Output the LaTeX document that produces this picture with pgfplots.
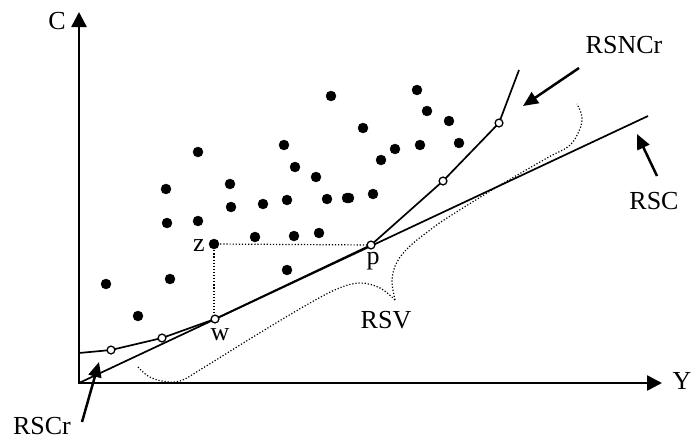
\documentclass[border=0pt]{standalone}
\usepackage{pgfplots}
\pgfplotsset{compat=1.18}
\usepackage{fontspec}
\setmainfont{Liberation Serif}
\usetikzlibrary{arrows.meta}
\newcommand{\lbl}{\fontsize{26}{30}\selectfont}
\begin{document}
\begin{tikzpicture}
\begin{axis}[
  width=692pt, height=439pt, scale only axis,
  xmin=0, xmax=692, ymin=0, ymax=439, y dir=reverse,
  hide axis, clip=false,
]
% bounding frame
\addplot[draw=none] coordinates {(0,0) (692,439)};
% axes
\addplot[line width=2.5pt, -{Triangle[length=15pt,width=15pt]}] coordinates {(79,384) (79,12)};
\addplot[line width=2.5pt, -{Triangle[length=15pt,width=15pt]}] coordinates {(78,383) (662,383)};
% RSC
\addplot[line width=1.7pt] coordinates {(79,383) (648,116)};
% RSNCr
\addplot[line width=1.7pt] coordinates {(79,353) (111,350) (162,338) (215,319) (371,245) (443,181) (499,123) (519,70)};
% dotted z-p and z-w
\addplot[line width=1.2pt, dash pattern=on 1.2pt off 1.9pt] coordinates {(214,244) (371,245)};
\addplot[line width=1.2pt, dash pattern=on 1.2pt off 1.9pt] coordinates {(214,244) (214,319)};
% RSV brace
\addplot[line width=1.2pt, dash pattern=on 1.2pt off 1.9pt, smooth, tension=0.6] coordinates {(138,367) (148,376) (162,381) (180,381) (203,368) (253,337) (303,307) (337,289) (360,283) (380,288) (395,300)};
\addplot[line width=1.2pt, dash pattern=on 1.2pt off 1.9pt, smooth, tension=0.6] coordinates {(395,300) (392,280) (397,262) (410,246) (430,230) (447,218) (497,187) (547,158) (569,146) (579,131) (582,117) (577,104)};
% annotation arrows
\addplot[line width=2.5pt, -{Triangle[length=15pt,width=13pt]}] coordinates {(82,422) (99,362)};
\addplot[line width=2.5pt, -{Triangle[length=15pt,width=13pt]}] coordinates {(579,68) (523,106)};
\addplot[line width=2.5pt, -{Triangle[length=15pt,width=13pt]}] coordinates {(657,176) (637,134)};
% observed units
\addplot[only marks, mark=*, mark size=5pt] coordinates {
 (331,96) (198,152) (284,145) (295,167) (316,177) (166,189) (230,184)
 (231,207) (263,204) (287,200) (327,199) (347,198)
 (417,90) (427,111) (449,121) (363,128) (395,149) (381,160) (420,145) (459,143)
 (349,198) (373,194)
 (167,223) (198,221) (214,244) (255,237) (294,236) (319,233) (287,270)
 (106,284) (170,279) (138,316)};
% frontier units
\addplot[only marks, mark=*, mark size=3.9pt, mark options={fill=white, draw=black, line width=1.3pt}] coordinates {
 (111,350) (162,338) (215,319) (371,245) (443,181) (499,123)};
% labels
\node[font=\lbl, inner sep=0pt] at (axis cs:57,21) {C};
\node[font=\lbl, inner sep=0pt] at (axis cs:682,381) {Y};
\node[font=\lbl, inner sep=0pt] at (axis cs:624,45) {RSNCr};
\node[font=\lbl, inner sep=0pt] at (axis cs:654,201) {RSC};
\node[font=\lbl, inner sep=0pt] at (axis cs:386,320) {RSV};
\node[font=\lbl, inner sep=0pt] at (axis cs:42,426) {RSCr};
\node[font=\lbl, inner sep=0pt] at (axis cs:199,246) {z};
\node[font=\lbl, inner sep=0pt] at (axis cs:220,335) {w};
\node[font=\lbl, inner sep=0pt] at (axis cs:373,261) {p};
\end{axis}
\end{tikzpicture}
\end{document}
